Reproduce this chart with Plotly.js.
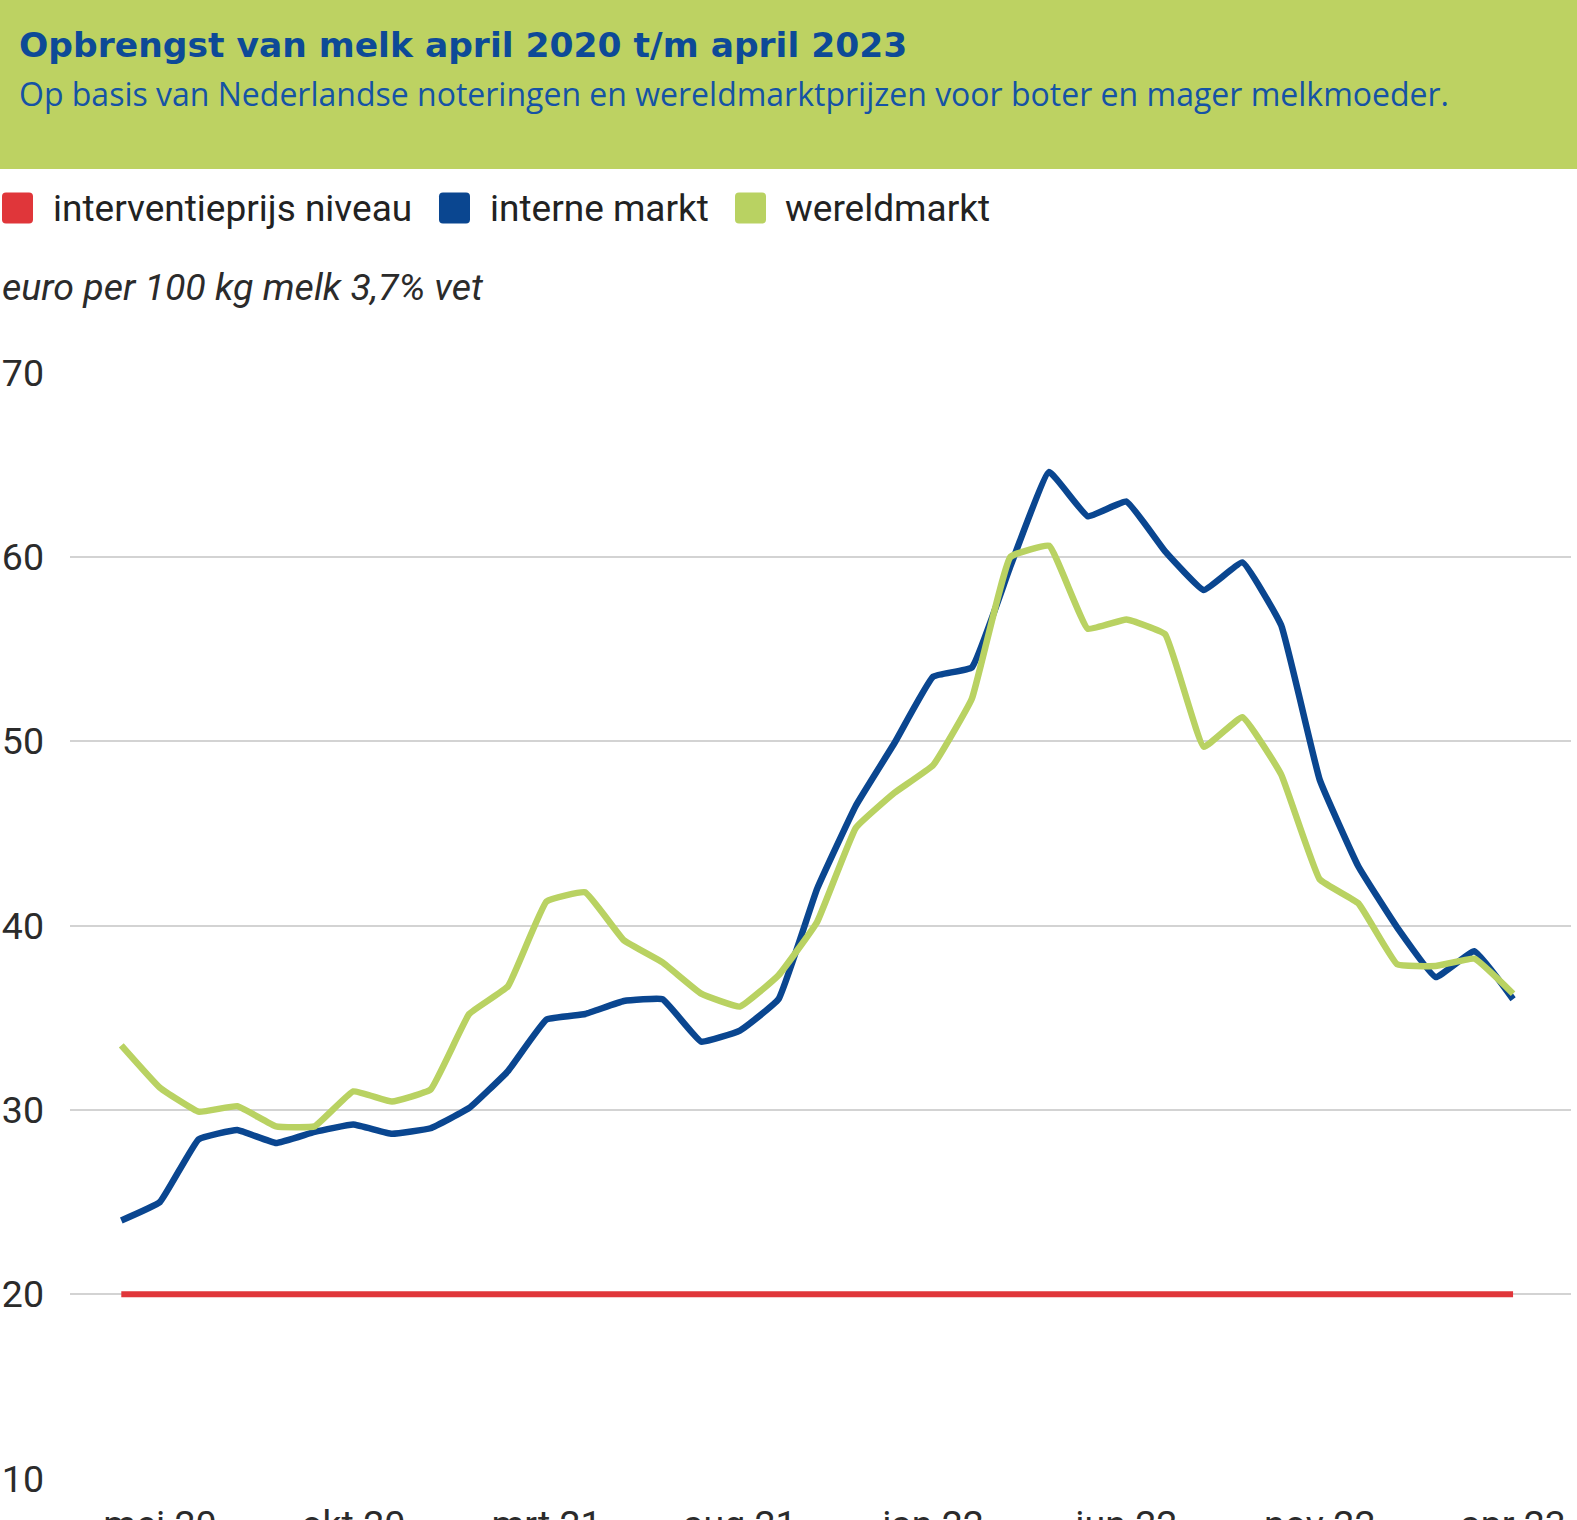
<!DOCTYPE html>
<html>
<head>
<meta charset="utf-8">
<script src="https://cdn.plot.ly/plotly-3.0.1.min.js"></script>
<style>
  html, body { margin: 0; padding: 0; background: #ffffff; overflow: hidden; }
  #chart { width: 1577px; height: 1520px; }
</style>
</head>
<body>
<div id="chart"></div>
<script>
// ---- data ----
var months = ['apr 20','mei 20','jun 20','jul 20','aug 20','sep 20','okt 20','nov 20','dec 20',
              'jan 21','feb 21','mrt 21','apr 21','mei 21','jun 21','jul 21','aug 21','sep 21','okt 21','nov 21','dec 21',
              'jan 22','feb 22','mrt 22','apr 22','mei 22','jun 22','jul 22','aug 22','sep 22','okt 22','nov 22','dec 22',
              'jan 23','feb 23','mrt 23','apr 23'];

var interneMarkt = [24.0, 25.0, 28.4, 28.9, 28.2, 28.8, 29.2, 28.7, 29.0,
                    30.1, 32.1, 34.9, 35.2, 35.9, 36.0, 33.7, 34.3, 36.0, 42.0, 46.5, 49.9,
                    53.5, 54.0, 59.5, 64.6, 62.2, 63.0, 60.3, 58.2, 59.7, 56.3, 47.9, 43.2,
                    39.9, 37.2, 38.6, 36.0];

var wereldmarkt = [33.5, 31.2, 29.9, 30.2, 29.1, 29.1, 31.0, 30.45, 31.1,
                   35.2, 36.7, 41.3, 41.8, 39.2, 38.0, 36.3, 35.6, 37.3, 40.2, 45.3, 47.2,
                   48.7, 52.3, 60.0, 60.6, 56.1, 56.6, 55.8, 49.7, 51.3, 48.2, 42.5, 41.2,
                   37.9, 37.8, 38.2, 36.3];

var interventieprijs = [20, 20, 20, 20, 20, 20, 20, 20, 20,
                        20, 20, 20, 20, 20, 20, 20, 20, 20, 20, 20, 20,
                        20, 20, 20, 20, 20, 20, 20, 20, 20, 20, 20, 20,
                        20, 20, 20, 20];

var seriesNames = ['interventieprijs niveau', 'interne markt', 'wereldmarkt'];
var yTicks = [10, 20, 30, 40, 50, 60, 70];
var xTickLabels = months.filter(function (m, i) { return i % 5 === 1; });

var titleText = 'Opbrengst van melk april 2020 t/m april 2023';
var subtitleText = 'Op basis van Nederlandse noteringen en wereldmarktprijzen voor boter en mager melkmoeder.';
var unitText = 'euro per 100 kg melk 3,7% vet';

// ---- style ----
var RED = '#E0363A', BLUE = '#0A4690', GREEN = '#B9D262', HEADER = '#BDD262', TITLEBLUE = '#0D4A97';
var seriesColors = [RED, BLUE, GREEN];
var W = 1577, H = 1520;
var M = {l: 70, r: 6, t: 372, b: 41, autoexpand: false};
var PW = W - M.l - M.r, PH = H - M.t - M.b;
function px(x) { return (x - M.l) / PW; }
function py(y) { return 1 + (M.t - y) / PH; }

var lineShape = {shape: 'spline', smoothing: 0.3};

var traces = [
  {x: months, y: interventieprijs, type: 'scatter', mode: 'lines', name: seriesNames[0],
   line: {color: RED, width: 6}},
  {x: months, y: interneMarkt, type: 'scatter', mode: 'lines', name: seriesNames[1],
   line: Object.assign({color: BLUE, width: 6.5}, lineShape)},
  {x: months, y: wereldmarkt, type: 'scatter', mode: 'lines', name: seriesNames[2],
   line: Object.assign({color: GREEN, width: 6.5}, lineShape)}
];

// rounded-square legend swatch as a paper-referenced path
function roundedSquare(x0, y0, size, r) {
  var x1 = x0 + size, y1 = y0 + size;
  var P = function (x, y) { return px(x).toFixed(6) + ',' + py(y).toFixed(6); };
  return 'M' + P(x0 + r, y0) + ' L' + P(x1 - r, y0) + ' Q' + P(x1, y0) + ' ' + P(x1, y0 + r) +
         ' L' + P(x1, y1 - r) + ' Q' + P(x1, y1) + ' ' + P(x1 - r, y1) +
         ' L' + P(x0 + r, y1) + ' Q' + P(x0, y1) + ' ' + P(x0, y1 - r) +
         ' L' + P(x0, y0 + r) + ' Q' + P(x0, y0) + ' ' + P(x0 + r, y0) + ' Z';
}

var legendSwatchX = [2, 439, 735];
var legendTextX = [51, 488, 783];
var legendY = 208;

var shapes = [
  {type: 'rect', xref: 'paper', yref: 'paper', layer: 'below',
   x0: px(0), x1: px(W), y0: py(169), y1: py(0),
   fillcolor: HEADER, line: {width: 0}}
];
var annotations = [
  {text: subtitleText, xref: 'paper', yref: 'paper', x: px(17), y: py(93),
   xanchor: 'left', yanchor: 'middle', showarrow: false,
   font: {family: '"Open Sans", sans-serif', size: 32, color: '#1553A5'}},
  {text: '<i>' + unitText + '</i>', xref: 'paper', yref: 'paper', x: px(0), y: py(287),
   xanchor: 'left', yanchor: 'middle', showarrow: false,
   font: {family: 'Roboto, sans-serif', size: 37.5, color: '#2b2b2b'}}
];
seriesNames.forEach(function (name, i) {
  shapes.push({type: 'path', xref: 'paper', yref: 'paper',
               path: roundedSquare(legendSwatchX[i], legendY - 15.5, 31, 4),
               fillcolor: seriesColors[i], line: {width: 0}});
  annotations.push({text: name, xref: 'paper', yref: 'paper', x: px(legendTextX[i]), y: py(legendY),
                    xanchor: 'left', yanchor: 'middle', showarrow: false,
                    font: {family: 'Roboto, sans-serif', size: 37, color: '#222222'}});
});

var layout = {
  width: W, height: H,
  margin: M,
  paper_bgcolor: '#ffffff',
  plot_bgcolor: '#ffffff',
  font: {family: 'Roboto, sans-serif', size: 37, color: '#2b2b2b'},
  title: {
    text: titleText,
    x: 19 / W, xanchor: 'left', xref: 'container',
    y: 1 - 45 / H, yanchor: 'middle', yref: 'container',
    font: {family: '"DejaVu Sans", sans-serif', size: 34.5, weight: 700, color: TITLEBLUE}
  },
  showlegend: false,
  xaxis: {
    type: 'category',
    categoryorder: 'array', categoryarray: months,
    range: [(M.l - 121.3) / 38.66, (W - M.r - 121.3) / 38.66],
    tickmode: 'array', tickvals: xTickLabels, ticktext: xTickLabels,
    showgrid: false, zeroline: false, showline: false, ticks: '',
    ticklabelstandoff: 19,
    tickfont: {family: 'Roboto, sans-serif', size: 37.5, color: '#2b2b2b'},
    fixedrange: true
  },
  yaxis: {
    range: [9.97, 70.03],
    tickmode: 'array', tickvals: yTicks,
    showgrid: true, gridcolor: '#D3D3D3', gridwidth: 2,
    zeroline: false, showline: false, ticks: '',
    ticklabelstandoff: 25,
    tickfont: {family: 'Roboto, sans-serif', size: 37.5, color: '#2b2b2b'},
    fixedrange: true
  },
  shapes: shapes,
  annotations: annotations
};

Plotly.newPlot('chart', traces, layout, {displayModeBar: false});
</script>
</body>
</html>
